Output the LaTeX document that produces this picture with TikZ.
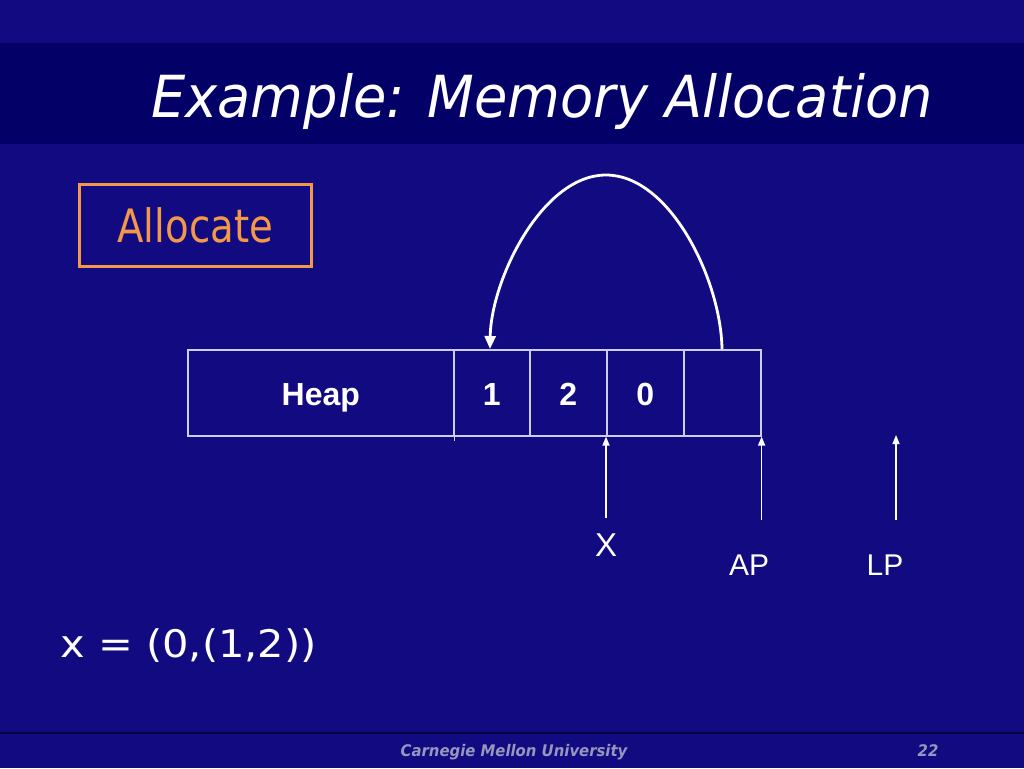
\documentclass[tikz,border=0pt]{standalone}
\usepackage{fontspec}
\usetikzlibrary{arrows.meta}
\setmainfont{Liberation Sans}
\newfontfamily\tahomaish{DejaVu Sans}
\definecolor{bgblue}{RGB}{17,10,128}
\definecolor{bandblue}{RGB}{3,0,104}
\definecolor{allocorange}{RGB}{243,152,72}
\definecolor{celline}{RGB}{205,205,240}
\definecolor{footgray}{RGB}{150,150,190}
\definecolor{footline}{RGB}{5,3,70}
\tikzset{
  cellbox/.style={draw=celline, line width=1.6pt, minimum height=86pt, inner sep=0pt, anchor=north west, text=white, text height=26pt, text depth=0pt, font=\bfseries\fontsize{32}{33}\selectfont},
  ptr/.style={draw=white, line width=1.4pt, -{Triangle[width=7pt,length=9pt]}},
  arcline/.style={draw=white, line width=2.8pt, -{Triangle[width=11pt,length=13pt]}},
  lbl/.style={text=white, inner sep=0pt, font=\fontsize{33}{34}\selectfont}
}
\begin{document}
\begin{tikzpicture}[x=1pt,y=-1pt]
\useasboundingbox (0,0) rectangle (1024,768);
\fill[bgblue] (0,0) rectangle (1024,768);
\fill[bandblue] (0,43) rectangle (1024,144);
\draw[footline, line width=2pt] (0,733) -- (1024,733);

% title
\node[text=white, inner sep=0pt, anchor=base west] (title) at (151,117)
  {\scalebox{0.935}[1]{\tahomaish\itshape\fontsize{58}{60}\selectfont Example: Memory Allocation}};

% Allocate box
\node[draw=allocorange, line width=2.5pt, text=allocorange, minimum width=232pt, minimum height=82pt, inner sep=0pt, anchor=north west] (alloc) at (78,183)
  {\scalebox{0.84}[1]{\tahomaish\fontsize{46}{48}\selectfont Allocate}};

% heap cells
\node[cellbox, minimum width=266pt] (heap) at (187,349) {Heap};
\node[cellbox, minimum width=76pt] (c1) at (453,349) {1};
\node[cellbox, minimum width=77pt] (c2) at (529,349) {2};
\node[cellbox, minimum width=77pt] (c3) at (606,349) {0};
\node[cellbox, minimum width=77pt] (c4) at (683,349) {};
\draw[celline, line width=1.6pt] (heap.south east) -- ++(0,4);

% arc
\coordinate (arcR) at (722,349);
\coordinate (arcTop) at (606,175);
\coordinate (arcL) at (490,349);
\draw[arcline] (arcR) .. controls (721,280) and (670,175) .. (arcTop)
  .. controls (542,175) and (491,280) .. (arcL);

% pointers
\node[lbl, anchor=center] (X) at (606,545) {X};
\node[lbl, anchor=center, font=\fontsize{30}{32}\selectfont] (AP) at (749,565) {AP};
\node[lbl, anchor=center, font=\fontsize{30}{32}\selectfont] (LP) at (885,565) {LP};
\coordinate (xbot) at (606,518);
\coordinate (apbot) at (760,520);
\coordinate (lpbot) at (896,520);
\coordinate (lptop) at (896,435);
\draw[ptr] (c3.south west |- xbot) -- (c3.south west);
\draw[ptr] (c4.south east |- apbot) -- (c4.south east);
\draw[ptr] (lpbot) -- (lptop);

% expression
\node[text=white, inner sep=0pt, anchor=base west] (expr) at (60,657)
  {\scalebox{1.095}[1]{\tahomaish\fontsize{38}{40}\selectfont x = (0,(1,2))}};

% footer
\node[text=footgray, inner sep=0pt, anchor=base] (foot) at (514,756)
  {\scalebox{0.93}[1]{\tahomaish\bfseries\itshape\fontsize{16}{18}\selectfont Carnegie Mellon University}};
\node[text=footgray, inner sep=0pt, anchor=base] (pg) at (928,756)
  {\scalebox{0.93}[1]{\tahomaish\bfseries\itshape\fontsize{16}{18}\selectfont 22}};
\end{tikzpicture}
\end{document}
